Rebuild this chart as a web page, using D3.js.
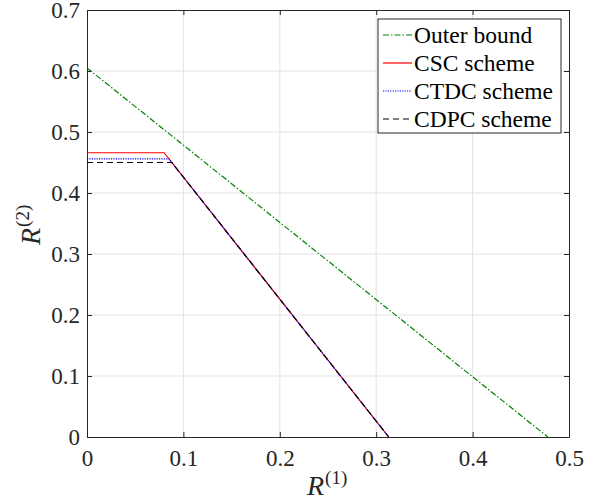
<!DOCTYPE html>
<html><head><meta charset="utf-8">
<script src="https://cdn.jsdelivr.net/npm/d3@7"></script>
<style>body{margin:0;background:#fff}</style>
</head><body><svg id="c" width="599" height="502"></svg>
<script>
const xTicks = [0, 0.1, 0.2, 0.3, 0.4, 0.5];
const yTicks = [0, 0.1, 0.2, 0.3, 0.4, 0.5, 0.6, 0.7];
const seriesNames = ["Outer bound", "CSC scheme", "CTDC scheme", "CDPC scheme"];
const outerBound = [[0, 0.605], [0.478, 0]];
const csc = [[0, 0.466], [0.08, 0.466], [0.313, 0]];
const ctdc = [[0, 0.456], [0.085, 0.456], [0.313, 0]];
const cdpc = [[0, 0.450], [0.088, 0.450], [0.313, 0]];

const FONT = "Liberation Serif";
const svg = d3.select("#c").attr("font-family", FONT);
const m = {l: 87, t: 10, r: 569, b: 437};
const x = d3.scaleLinear().domain([0, 0.5]).range([m.l, m.r]);
const y = d3.scaleLinear().domain([0, 0.7]).range([m.b, m.t]);

// grid
svg.append("g").selectAll("line").data(xTicks.slice(1, -1)).join("line")
  .attr("x1", d => x(d)).attr("x2", d => x(d)).attr("y1", m.t).attr("y2", m.b)
  .attr("stroke", "#e3e3e3").attr("stroke-width", 1);
svg.append("g").selectAll("line").data(yTicks.slice(1, -1)).join("line")
  .attr("y1", d => y(d)).attr("y2", d => y(d)).attr("x1", m.l).attr("x2", m.r)
  .attr("stroke", "#e3e3e3").attr("stroke-width", 1);

const fmt = d => d === 0 ? "0" : d3.format(".1f")(d);
const axStyle = g => {
  g.attr("font-family", FONT).attr("font-size", 23);
  g.select(".domain").attr("stroke", "#262626");
  g.selectAll(".tick line").attr("stroke", "#262626");
  g.selectAll("text").attr("font-family", FONT).style("font-family", FONT).style("font-size", "23px").attr("fill", "#262626");
};
svg.append("g").attr("transform", `translate(0,${m.b})`)
  .call(d3.axisBottom(x).tickValues(xTicks).tickFormat(fmt).tickSizeInner(-5).tickSizeOuter(0).tickPadding(13))
  .call(axStyle);
svg.append("g").attr("transform", `translate(0,${m.t})`)
  .call(d3.axisTop(x).tickValues(xTicks).tickFormat("").tickSizeInner(-5).tickSizeOuter(0))
  .call(axStyle);
svg.append("g").attr("transform", `translate(${m.l},0)`)
  .call(d3.axisLeft(y).tickValues(yTicks).tickFormat(fmt).tickSizeInner(-5).tickSizeOuter(0).tickPadding(7))
  .call(axStyle);
svg.append("g").attr("transform", `translate(${m.r},0)`)
  .call(d3.axisRight(y).tickValues(yTicks).tickFormat("").tickSizeInner(-5).tickSizeOuter(0))
  .call(axStyle);

const line = d3.line().x(d => x(d[0])).y(d => y(d[1]));
const styles = [
  {data: outerBound, color: "#008000", dash: "6,2,1.5,2"},
  {data: csc, color: "#ff0000", dash: null},
  {data: ctdc, color: "#0000ff", dash: "1.2,1.2"},
  {data: cdpc, color: "#000000", dash: "6,4"}
];
styles.forEach(s => {
  svg.append("path").datum(s.data).attr("d", line).attr("fill", "none")
    .attr("stroke", s.color).attr("stroke-width", 1.2).attr("stroke-dasharray", s.dash);
});

// legend
const lg = svg.append("g");
lg.append("rect").attr("x", 378).attr("y", 19).attr("width", 183).attr("height", 114)
  .attr("fill", "#fff").attr("stroke", "#262626").attr("stroke-width", 1);
seriesNames.forEach((n, i) => {
  const yy = 35 + i * 28;
  lg.append("line").attr("x1", 383).attr("x2", 412).attr("y1", yy).attr("y2", yy)
    .attr("stroke", styles[i].color).attr("stroke-width", 1.2).attr("stroke-dasharray", styles[i].dash);
  lg.append("text").attr("x", 414).attr("y", yy + 8).text(n)
    .style("font-family", FONT).style("font-size", "23.5px").attr("fill", "#000");
});

// axis labels
svg.append("text").attr("x", 307).attr("y", 495).style("font-family", FONT).style("font-size", "28px").attr("fill", "#262626")
  .html('<tspan font-style="italic">R</tspan><tspan dx="1" dy="-11" style="font-size:19px">(1)</tspan>');
svg.append("text").attr("transform", "translate(40,245) rotate(-90)").style("font-family", FONT).style("font-size", "28px").attr("fill", "#262626")
  .html('<tspan font-style="italic">R</tspan><tspan dx="1" dy="-11" style="font-size:19px">(2)</tspan>');
</script></body></html>
